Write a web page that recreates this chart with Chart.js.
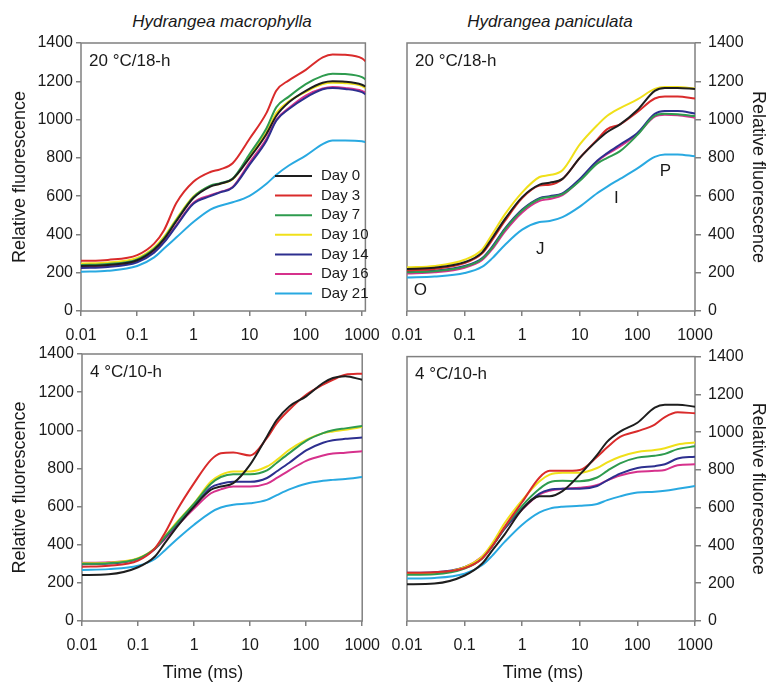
<!DOCTYPE html>
<html lang="en">
<head>
<meta charset="UTF-8" />
<title>OJIP fluorescence transients - Hydrangea</title>
<script src="https://cdn.jsdelivr.net/npm/chart.js@4"></script>
<style>
  body { margin: 0; background: #fff; font-family: "Liberation Sans", Arial, sans-serif; }
  #page { position: relative; width: 769px; height: 683px; overflow: hidden; }
  canvas { position: absolute; }
  .label { position: absolute; color: #1a1a1a; white-space: nowrap; transform: translate(-50%, -50%); }
  .species { font-style: italic; font-size: 17px; }
  .axisTitle { font-size: 18px; }
</style>
</head>
<body>
<div id="page">
  <div class="label species" style="left:222px; top:22px">Hydrangea macrophylla</div>
  <div class="label species" style="left:550px; top:22px">Hydrangea paniculata</div>
  <canvas id="macro20" width="390" height="345" style="left:0; top:0"></canvas>
  <canvas id="pani20" width="389" height="345" style="left:380px; top:0"></canvas>
  <canvas id="macro4" width="390" height="343" style="left:0; top:340px"></canvas>
  <canvas id="pani4" width="389" height="343" style="left:380px; top:340px"></canvas>
  <div class="label axisTitle" style="left:203px; top:672px">Time (ms)</div>
  <div class="label axisTitle" style="left:543px; top:672px">Time (ms)</div>
</div>

<script>
  // ---- data ----
  const dayLabels = ['Day 0', 'Day 3', 'Day 7', 'Day 10', 'Day 14', 'Day 16', 'Day 21'];
  const dayColors = ['#1e1e1e', '#d92b2b', '#2e9b4e', '#f0e01a', '#2d2f8f', '#d6318c', '#29a9e1'];

  const timeMs = [0.01, 0.03, 0.1, 0.2, 0.3, 0.5, 1, 2, 3, 5, 10, 20, 30, 50, 100, 200, 300, 500, 1000];
  const timeMsMacro20 = [0.01, 0.03, 0.1, 0.2, 0.3, 0.5, 1, 2, 3, 5, 10, 20, 30, 50, 100, 200, 300, 500, 1000, 1150];

  const xTickValues = [0.01, 0.1, 1, 10, 100, 1000];
  const xTickLabels = ['0.01', '0.1', '1', '10', '100', '1000'];
  const yTickValues = [0, 200, 400, 600, 800, 1000, 1200, 1400];
  const yTickLabels = ['0', '200', '400', '600', '800', '1000', '1200', '1400'];

  // H. macrophylla, 20 °C/18-h
  const macro20Day0  = [235, 240, 265, 320, 375, 470, 590, 650, 665, 690, 800, 925, 1020, 1090, 1150, 1192, 1200, 1198, 1182, 1172];
  const macro20Day3  = [262, 267, 292, 352, 422, 565, 675, 726, 740, 772, 900, 1035, 1152, 1205, 1260, 1325, 1340, 1338, 1320, 1305];
  const macro20Day7  = [240, 245, 270, 325, 380, 475, 595, 655, 668, 692, 820, 955, 1065, 1120, 1185, 1228, 1240, 1238, 1222, 1210];
  const macro20Day10 = [248, 253, 277, 332, 388, 482, 598, 652, 665, 688, 810, 935, 1035, 1095, 1145, 1185, 1192, 1190, 1175, 1165];
  const macro20Day14 = [225, 230, 255, 305, 358, 445, 560, 600, 620, 645, 765, 890, 995, 1055, 1115, 1158, 1165, 1160, 1143, 1132];
  const macro20Day16 = [230, 235, 260, 310, 362, 450, 565, 605, 622, 648, 775, 900, 1000, 1060, 1125, 1162, 1170, 1165, 1150, 1142];
  const macro20Day21 = [205, 210, 235, 280, 326, 385, 465, 530, 550, 568, 602, 665, 712, 760, 812, 872, 891, 891, 887, 882];

  // H. paniculata, 20 °C/18-h
  const pani20Day0  = [220, 226, 255, 305, 380, 480, 595, 660, 670, 690, 800, 890, 935, 975, 1050, 1150, 1165, 1165, 1160];
  const pani20Day3  = [213, 220, 250, 300, 370, 470, 590, 655, 660, 690, 800, 895, 950, 975, 1040, 1110, 1120, 1120, 1110];
  const pani20Day7  = [202, 208, 232, 272, 330, 425, 525, 585, 595, 610, 680, 770, 800, 835, 920, 1020, 1030, 1028, 1018];
  const pani20Day10 = [228, 235, 268, 320, 400, 505, 620, 700, 710, 735, 870, 970, 1020, 1060, 1105, 1160, 1170, 1170, 1162];
  const pani20Day14 = [205, 210, 235, 275, 335, 430, 530, 590, 600, 615, 690, 785, 825, 870, 930, 1030, 1045, 1045, 1032];
  const pani20Day16 = [196, 202, 226, 265, 322, 415, 515, 575, 585, 605, 685, 780, 820, 860, 925, 1015, 1025, 1022, 1010];
  const pani20Day21 = [175, 180, 198, 230, 275, 345, 425, 465, 470, 490, 545, 615, 650, 690, 745, 805, 818, 818, 808];

  // H. macrophylla, 4 °C/10-h
  const macro4Day0  = [241, 245, 282, 338, 408, 495, 600, 688, 705, 723, 820, 968, 1055, 1125, 1178, 1248, 1274, 1283, 1265];
  const macro4Day3  = [285, 290, 317, 381, 460, 583, 723, 845, 880, 884, 868, 960, 1038, 1108, 1186, 1239, 1265, 1291, 1297];
  const macro4Day7  = [300, 303, 327, 380, 440, 515, 615, 720, 755, 770, 770, 790, 830, 880, 945, 985, 1000, 1010, 1022];
  const macro4Day10 = [303, 306, 329, 381, 443, 521, 618, 731, 766, 784, 784, 810, 845, 898, 950, 985, 994, 1003, 1017];
  const macro4Day14 = [298, 301, 325, 378, 435, 510, 605, 700, 720, 730, 730, 750, 785, 830, 895, 935, 948, 955, 962];
  const macro4Day16 = [305, 308, 327, 378, 430, 500, 590, 670, 690, 705, 705, 720, 750, 790, 840, 868, 878, 882, 890];
  const macro4Day21 = [268, 272, 290, 325, 370, 430, 505, 570, 595, 610, 617, 635, 660, 690, 720, 735, 740, 745, 755];

  // H. paniculata, 4 °C/10-h
  const pani4Day0  = [194, 198, 241, 303, 373, 460, 591, 661, 661, 688, 775, 880, 950, 1003, 1050, 1130, 1145, 1145, 1135];
  const pani4Day3  = [255, 258, 280, 330, 395, 500, 630, 760, 795, 795, 800, 870, 920, 975, 1005, 1040, 1080, 1105, 1100];
  const pani4Day7  = [245, 248, 278, 330, 395, 495, 610, 700, 735, 742, 740, 760, 795, 835, 865, 875, 885, 910, 925];
  const pani4Day10 = [250, 253, 285, 340, 410, 520, 640, 740, 775, 785, 785, 810, 840, 870, 895, 905, 915, 935, 945];
  const pani4Day14 = [255, 258, 285, 335, 395, 490, 595, 675, 695, 700, 700, 715, 745, 780, 810, 820, 830, 860, 870];
  const pani4Day16 = [250, 253, 285, 340, 400, 490, 590, 670, 690, 700, 705, 720, 745, 770, 790, 795, 800, 825, 830];
  const pani4Day21 = [225, 228, 250, 295, 345, 420, 510, 575, 595, 605, 610, 620, 640, 660, 680, 685, 690, 700, 715];

  // OJIP step labels (H. paniculata, 20 °C)
  const phaseLabels = ['O', 'J', 'I', 'P'];
  const phaseTimes = [0.017, 2.06, 43, 305];
  const phaseLevels = [110, 322, 589, 728];

  // ---- styling ----
  const fontFamily = '"Liberation Sans", Arial, sans-serif';
  const textColor = '#1a1a1a';
  const frameColor = '#808080';

  // grey box round the plot area plus the condition label in its corner
  const framePlugin = {
    id: 'panelFrame',
    beforeDatasetsDraw(chart, args, opts) {
      const { ctx, chartArea: a } = chart;
      ctx.save();
      ctx.strokeStyle = frameColor;
      ctx.lineWidth = 1.5;
      ctx.strokeRect(a.left, a.top, a.right - a.left, a.bottom - a.top);
      ctx.fillStyle = textColor;
      ctx.font = '17px ' + fontFamily;
      ctx.textBaseline = 'middle';
      ctx.textAlign = 'left';
      ctx.fillText(opts.text, a.left + 8, a.top + 18);
      ctx.restore();
    }
  };

  // legend drawn inside the first panel
  const insideLegend = {
    id: 'insideLegend',
    afterDatasetsDraw(chart) {
      const { ctx, chartArea: a } = chart;
      ctx.save();
      ctx.font = '15px ' + fontFamily;
      ctx.textBaseline = 'middle';
      ctx.textAlign = 'left';
      chart.data.datasets.forEach((ds, i) => {
        const y = a.top + 133 + i * 19.6;
        ctx.strokeStyle = ds.borderColor;
        ctx.lineWidth = 2;
        ctx.beginPath();
        ctx.moveTo(a.left + 194, y);
        ctx.lineTo(a.left + 231, y);
        ctx.stroke();
        ctx.fillStyle = textColor;
        ctx.fillText(ds.label, a.left + 240, y);
      });
      ctx.restore();
    }
  };

  const phasePlugin = {
    id: 'phaseLabels',
    afterDatasetsDraw(chart) {
      const { ctx, scales } = chart;
      ctx.save();
      ctx.font = '17px ' + fontFamily;
      ctx.fillStyle = textColor;
      ctx.textAlign = 'center';
      ctx.textBaseline = 'middle';
      phaseLabels.forEach((t, i) => {
        ctx.fillText(t, scales.x.getPixelForValue(phaseTimes[i]), scales.y.getPixelForValue(phaseLevels[i]));
      });
      ctx.restore();
    }
  };

  function makePanel(id, cfg) {
    const datasets = cfg.series.map((vals, i) => ({
      label: dayLabels[i],
      data: vals.map((v, j) => ({ x: cfg.times[j], y: v })),
      borderColor: dayColors[i],
      borderWidth: 2,
      pointRadius: 0,
      cubicInterpolationMode: 'monotone',
      fill: false
    }));

    return new Chart(document.getElementById(id), {
      type: 'line',
      data: { datasets },
      options: {
        responsive: false,
        animation: false,
        events: [],
        layout: { padding: cfg.padding },
        scales: {
          x: {
            type: 'logarithmic',
            min: 0.01,
            max: cfg.xMax,
            afterBuildTicks: s => { s.ticks = xTickValues.map(v => ({ value: v })); },
            afterFit: s => { s.height = cfg.xHeight; },
            ticks: {
              callback: (v, i) => xTickLabels[i],
              autoSkip: false,
              maxRotation: 0,
              padding: 10,
              color: textColor,
              font: { family: fontFamily, size: 16 }
            },
            grid: { drawOnChartArea: false, tickLength: 5, color: frameColor, lineWidth: 1.5 },
            border: { display: false }
          },
          y: {
            position: cfg.yPosition,
            min: 0,
            max: 1400,
            afterBuildTicks: s => { s.ticks = yTickValues.map(v => ({ value: v })); },
            afterFit: s => { s.width = cfg.yWidth; },
            ticks: {
              callback: (v, i) => yTickLabels[i],
              padding: cfg.yTickPad,
              color: textColor,
              font: { family: fontFamily, size: 16 }
            },
            grid: { drawOnChartArea: false, tickLength: cfg.yTickLen, color: frameColor, lineWidth: 1.5 },
            border: { display: false },
            title: {
              display: true,
              text: 'Relative fluorescence',
              color: textColor,
              font: { family: fontFamily, size: 18 },
              padding: { top: cfg.yTitlePad, bottom: 0 }
            }
          }
        },
        plugins: {
          legend: { display: false },
          tooltip: { enabled: false },
          panelFrame: { text: cfg.condition }
        }
      },
      plugins: [framePlugin].concat(cfg.extra || [])
    });
  }

  makePanel('macro20', {
    condition: '20 °C/18-h',
    times: timeMsMacro20,
    series: [macro20Day0, macro20Day3, macro20Day7, macro20Day10, macro20Day14, macro20Day16, macro20Day21],
    xMax: 1150,
    padding: { top: 43, right: 19, left: 0, bottom: 0 },
    xHeight: 34, yWidth: 81, yPosition: 'left', yTickLen: 5, yTickPad: 3, yTitlePad: 9,
    extra: [insideLegend]
  });

  makePanel('pani20', {
    condition: '20 °C/18-h',
    times: timeMs,
    series: [pani20Day0, pani20Day3, pani20Day7, pani20Day10, pani20Day14, pani20Day16, pani20Day21],
    xMax: 1000,
    padding: { top: 43, right: 0, left: 27, bottom: 0 },
    xHeight: 34, yWidth: 74, yPosition: 'right', yTickLen: 6, yTickPad: 7, yTitlePad: 0,
    extra: [phasePlugin]
  });

  makePanel('macro4', {
    condition: '4 °C/10-h',
    times: timeMs,
    series: [macro4Day0, macro4Day3, macro4Day7, macro4Day10, macro4Day14, macro4Day16, macro4Day21],
    xMax: 1000,
    padding: { top: 14, right: 19, left: 0, bottom: 0 },
    xHeight: 62, yWidth: 82, yPosition: 'left', yTickLen: 5, yTickPad: 3, yTitlePad: 9
  });

  makePanel('pani4', {
    condition: '4 °C/10-h',
    times: timeMs,
    series: [pani4Day0, pani4Day3, pani4Day7, pani4Day10, pani4Day14, pani4Day16, pani4Day21],
    xMax: 1000,
    padding: { top: 14, right: 0, left: 27, bottom: 0 },
    xHeight: 62, yWidth: 74, yPosition: 'right', yTickLen: 6, yTickPad: 7, yTitlePad: 0
  });
</script>
</body>
</html>
